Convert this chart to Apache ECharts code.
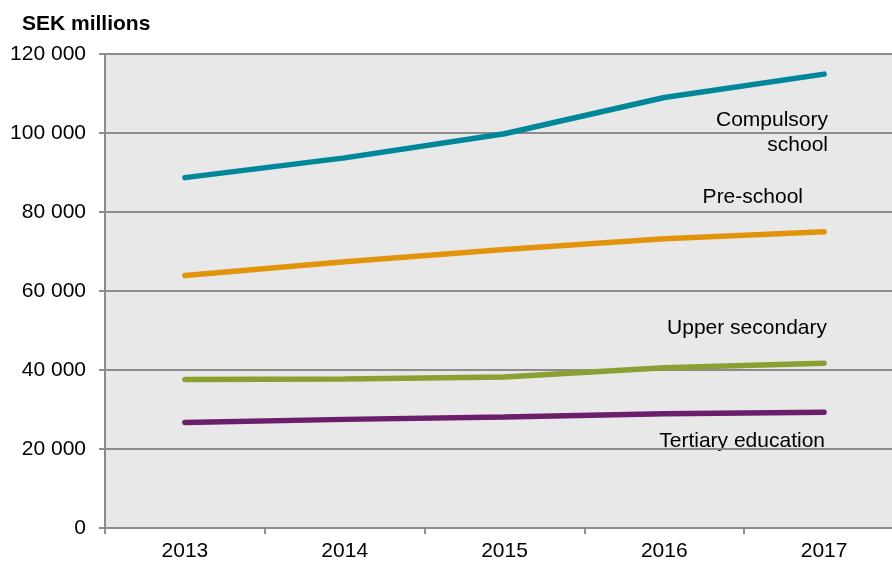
<!DOCTYPE html>
<html>
<head>
<meta charset="utf-8">
<script src="https://cdn.jsdelivr.net/npm/echarts@6/dist/echarts.min.js"></script>
<style>
  html, body { margin: 0; padding: 0; background: #fff; overflow: hidden; }
  /* plot area runs past the right edge of the picture, as in the original */
  #chart { width: 904px; height: 562px; }
</style>
</head>
<body>
<div id="chart"></div>
<script>
var years = ['2013', '2014', '2015', '2016', '2017'];
var compulsory = [88700, 93700, 99800, 109000, 114900];
var preschool = [63900, 67400, 70500, 73200, 75000];
var upperSecondary = [37600, 37700, 38200, 40600, 41700];
var tertiary = [26700, 27500, 28100, 28900, 29300];

var fontFam = '"Liberation Sans", Arial, sans-serif';

function fmt(v) {
  return String(v).replace(/\B(?=(\d{3})+(?!\d))/g, ' ');
}

function lineSeries(name, data, color) {
  return {
    name: name,
    type: 'line',
    data: data,
    symbol: 'none',
    lineStyle: { width: 5.5, color: color, cap: 'round' },
    itemStyle: { color: color }
  };
}

function note(text, x, y) {
  return {
    type: 'text', x: x, y: y,
    style: { text: text, fill: '#000', font: '21px ' + fontFam, textAlign: 'right', textVerticalAlign: 'middle' }
  };
}

var myChart = echarts.init(document.getElementById('chart'));
var option = {
  animation: false,
  grid: { left: 105, top: 54, right: 0, bottom: 33, show: true, backgroundColor: '#e8e8e8', borderWidth: 0 },
  xAxis: {
    type: 'category',
    data: years,
    boundaryGap: true,
    axisLine: { lineStyle: { color: '#8c8c8c', width: 2 } },
    axisTick: { show: true, length: 6, lineStyle: { color: '#8c8c8c', width: 2 } },
    axisLabel: { color: '#000', fontSize: 21, fontFamily: fontFam, margin: 13 }
  },
  yAxis: {
    type: 'value',
    min: 0,
    max: 120000,
    interval: 20000,
    axisLine: { show: true, lineStyle: { color: '#8c8c8c', width: 2 } },
    axisTick: { show: true, length: 6, lineStyle: { color: '#8c8c8c', width: 2 } },
    splitLine: { lineStyle: { color: '#8c8c8c', width: 2 } },
    axisLabel: { color: '#000', fontSize: 21, fontFamily: fontFam, margin: 19, formatter: fmt }
  },
  series: [
    lineSeries('Compulsory school', compulsory, '#00879a'),
    lineSeries('Pre-school', preschool, '#e2930c'),
    lineSeries('Upper secondary', upperSecondary, '#8aa033'),
    lineSeries('Tertiary education', tertiary, '#6a1e6b')
  ],
  graphic: [
    { type: 'text', left: 22, top: 14, style: { text: 'SEK millions', fill: '#000', font: 'bold 21px ' + fontFam } },
    note('Compulsory', 828, 120),
    note('school', 828, 145),
    note('Pre-school', 803, 197),
    note('Upper secondary', 827, 328),
    note('Tertiary education', 825, 441)
  ]
};
myChart.setOption(option);
</script>
</body>
</html>
